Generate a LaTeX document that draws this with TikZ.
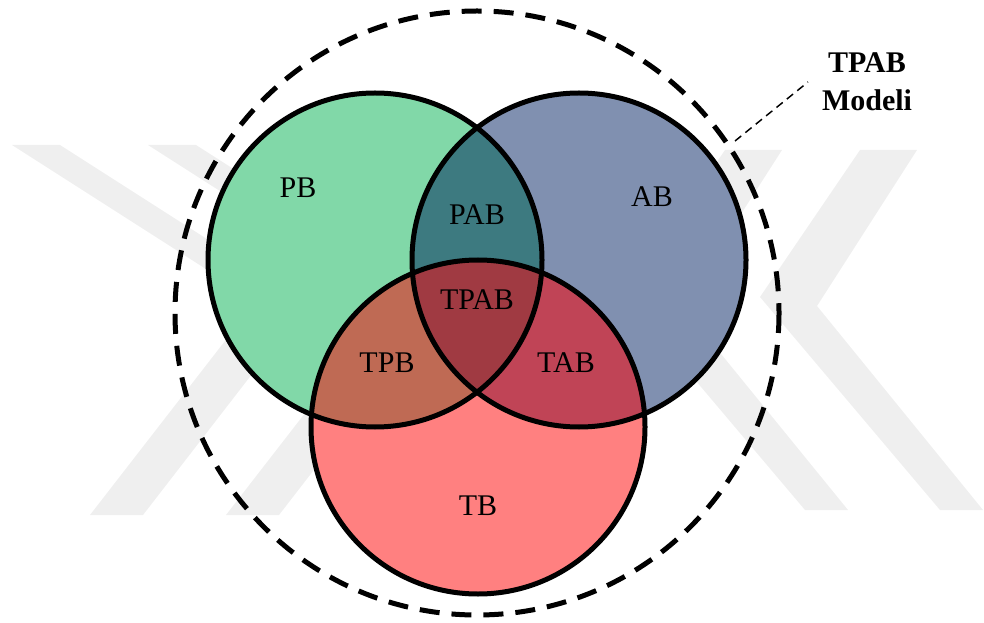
\documentclass[tikz,border=0pt]{standalone}
\usepackage{fontspec}
\setmainfont{Liberation Serif}
\usepackage{tikz}

\definecolor{pgreen}{RGB}{129,216,168}
\definecolor{ablue}{RGB}{128,144,176}
\definecolor{tred}{RGB}{255,128,128}
\definecolor{pabc}{RGB}{61,122,128}
\definecolor{tpbc}{RGB}{191,106,84}
\definecolor{tabc}{RGB}{192,68,86}
\definecolor{tpabc}{RGB}{160,58,66}
\definecolor{wmark}{RGB}{239,239,239}

\tikzset{
  ring/.style={line width=3.75pt},
  lbl/.style={font=\fontsize{22.5}{27}\selectfont, anchor=base, inner sep=0pt},
  ttl/.style={font=\fontsize{22.5}{27}\selectfont\bfseries, anchor=base, inner sep=0pt}
}

\begin{document}
\begin{tikzpicture}[x=0.75pt, y=-0.75pt]
\useasboundingbox (0,0) rectangle (984,623);

% watermark in the background
\fill[wmark] (12,145) -- (60,145) -- (307,303) -- (143,515) -- (90,515) -- (256,301) -- cycle;
\fill[wmark] (148,145) -- (196,145) -- (443,303) -- (279,515) -- (226,515) -- (392,301) -- cycle;
\fill[wmark] (860,150) -- (760,297) -- (940,510) -- (983,510) -- (817,306) -- (917,150) -- cycle;
\fill[wmark] (725,150) -- (625,297) -- (805,510) -- (848,510) -- (682,306) -- (782,150) -- cycle;

\coordinate (P) at (375,260);
\coordinate (A) at (579,260);
\coordinate (T) at (478,427);
\coordinate (M) at (477,313);

\fill[pgreen] (P) circle (167);
\fill[ablue] (A) circle (167);
\fill[tred] (T) circle (167);

\begin{scope}
\clip (P) circle (167);
\fill[pabc] (A) circle (167);
\fill[tpbc] (T) circle (167);
\end{scope}
\begin{scope}
\clip (A) circle (167);
\fill[tabc] (T) circle (167);
\end{scope}
\begin{scope}
\clip (P) circle (167);
\clip (A) circle (167);
\fill[tpabc] (T) circle (167);
\end{scope}

\draw[ring] (P) circle (167);
\draw[ring] (A) circle (167);
\draw[ring] (T) circle (167);
\draw[ring, dash pattern=on 15pt off 9pt] (M) circle (302);

\node[lbl] (pb) at (298,198) {PB};
\node[lbl] (ab) at (652,207) {AB};
\node[lbl] (pab) at (477,225) {PAB};
\node[lbl] (tpab) at (477,310) {TPAB};
\node[lbl] (tpb) at (387,372) {TPB};
\node[lbl] (tab) at (566,372) {TAB};
\node[lbl] (tb) at (478,515) {TB};

\node[ttl] (ttl1) at (867,73) {TPAB};
\node[ttl] (ttl2) at (867,111) {Modeli};

\coordinate (lead1) at (735,141);
\coordinate (lead2) at (808,82);
\path[-, line width=1.1pt, dash pattern=on 6pt off 4pt] (lead1) edge (lead2);

\end{tikzpicture}
\end{document}
